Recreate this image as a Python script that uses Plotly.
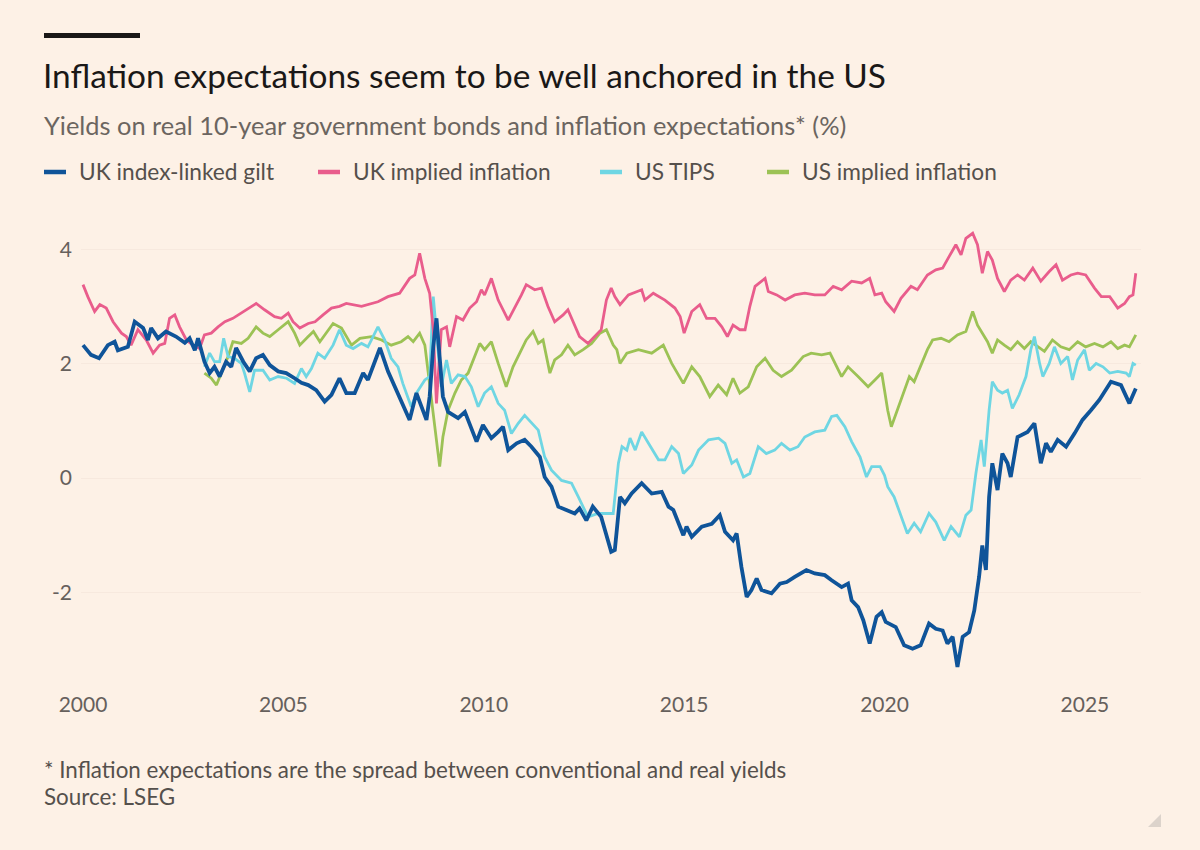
import plotly.graph_objects as go

# ---------------- data (decimal years, %) ----------------
gilt_t = [2000.0, 2000.2, 2000.4, 2000.62, 2000.79, 2000.87, 2001.12, 2001.29, 2001.5, 2001.62, 2001.7, 2001.87,
          2002.07, 2002.32, 2002.54, 2002.66, 2002.79, 2002.87, 2003.03, 2003.16, 2003.28, 2003.41, 2003.57, 2003.7,
          2003.82, 2004.0, 2004.16, 2004.32, 2004.49, 2004.66, 2004.87, 2005.07, 2005.28, 2005.45, 2005.62, 2005.82,
          2006.03, 2006.2, 2006.4, 2006.57, 2006.78, 2006.99, 2007.11, 2007.41, 2007.61, 2007.86, 2008.15, 2008.32,
          2008.57, 2008.65, 2008.74, 2008.82, 2008.9, 2008.98, 2009.11, 2009.36, 2009.53, 2009.65, 2009.82, 2009.98,
          2010.19, 2010.36, 2010.48, 2010.61, 2010.82, 2011.02, 2011.19, 2011.4, 2011.52, 2011.69, 2011.86, 2012.06,
          2012.27, 2012.39, 2012.56, 2012.72, 2012.93, 2013.18, 2013.27, 2013.32, 2013.4, 2013.52, 2013.69, 2013.94,
          2014.19, 2014.44, 2014.61, 2014.73, 2014.98, 2015.06, 2015.19, 2015.44, 2015.69, 2015.89, 2016.02, 2016.22,
          2016.31, 2016.43, 2016.56, 2016.68, 2016.81, 2016.93, 2017.18, 2017.39, 2017.56, 2017.76, 2018.05, 2018.26,
          2018.51, 2018.68, 2018.93, 2019.09, 2019.18, 2019.34, 2019.47, 2019.63, 2019.8, 2019.93, 2020.03, 2020.28,
          2020.49, 2020.7, 2020.9, 2021.11, 2021.28, 2021.45, 2021.57, 2021.7, 2021.82, 2021.95, 2022.11, 2022.24,
          2022.36, 2022.44, 2022.53, 2022.61, 2022.69, 2022.82, 2022.94, 2023.07, 2023.15, 2023.32, 2023.57, 2023.74,
          2023.9, 2024.03, 2024.15, 2024.32, 2024.53, 2024.74, 2024.94, 2025.15, 2025.36, 2025.65, 2025.9, 2026.11,
          2026.27]
gilt_v = [2.33, 2.16, 2.10, 2.33, 2.39, 2.24, 2.30, 2.74, 2.63, 2.42, 2.63, 2.45,
          2.57, 2.48, 2.37, 2.45, 2.24, 2.45, 2.04, 1.84, 1.95, 1.78, 2.04, 1.95,
          2.28, 2.04, 1.87, 2.10, 2.16, 1.98, 1.87, 1.84, 1.75, 1.67, 1.63, 1.54,
          1.34, 1.46, 1.75, 1.49, 1.49, 1.84, 1.72, 2.28, 1.87, 1.49, 1.02, 1.49,
          1.02, 1.43, 2.30, 2.80, 2.13, 1.43, 1.16, 1.05, 1.16, 0.96, 0.64, 0.93,
          0.70, 0.81, 0.90, 0.49, 0.61, 0.67, 0.55, 0.37, 0.02, -0.15, -0.50, -0.56,
          -0.62, -0.53, -0.74, -0.50, -0.68, -1.29, -1.26, -0.91, -0.33, -0.44, -0.27, -0.09,
          -0.27, -0.24, -0.50, -0.56, -1.00, -0.85, -1.03, -0.85, -0.80, -0.65, -0.94, -1.09,
          -0.97, -1.56, -2.08, -1.96, -1.76, -1.96, -2.02, -1.85, -1.82, -1.73, -1.61, -1.67,
          -1.70, -1.79, -1.91, -1.85, -2.14, -2.26, -2.49, -2.90, -2.43, -2.35, -2.52, -2.61,
          -2.93, -2.99, -2.93, -2.55, -2.64, -2.67, -2.90, -2.78, -3.31, -2.78, -2.70, -2.32,
          -1.73, -1.18, -1.61, -0.33, 0.26, -0.21, 0.43, 0.26, 0.02, 0.72, 0.81, 0.96,
          0.26, 0.61, 0.46, 0.67, 0.55, 0.78, 1.02, 1.19, 1.37, 1.69, 1.63, 1.31,
          1.57]

ukinf_t = [2000.0, 2000.12, 2000.29, 2000.42, 2000.58, 2000.75, 2000.96, 2001.08, 2001.2, 2001.37, 2001.58, 2001.75,
           2001.91, 2002.04, 2002.16, 2002.29, 2002.41, 2002.58, 2002.74, 2002.91, 2003.03, 2003.2, 2003.37, 2003.54,
           2003.74, 2003.95, 2004.16, 2004.32, 2004.53, 2004.78, 2004.95, 2005.12, 2005.24, 2005.41, 2005.62, 2005.79,
           2005.99, 2006.2, 2006.4, 2006.57, 2006.95, 2007.36, 2007.61, 2007.9, 2008.15, 2008.28, 2008.4, 2008.53,
           2008.65, 2008.74, 2008.82, 2008.94, 2009.07, 2009.15, 2009.32, 2009.48, 2009.65, 2009.82, 2009.94, 2010.02,
           2010.19, 2010.36, 2010.61, 2010.77, 2010.94, 2011.06, 2011.27, 2011.44, 2011.6, 2011.77, 2011.98, 2012.1,
           2012.27, 2012.39, 2012.6, 2012.77, 2012.93, 2013.06, 2013.18, 2013.27, 2013.4, 2013.61, 2013.94, 2014.02,
           2014.23, 2014.52, 2014.77, 2014.9, 2015.0, 2015.19, 2015.39, 2015.56, 2015.77, 2015.94, 2016.08, 2016.22,
           2016.39, 2016.52, 2016.64, 2016.77, 2016.89, 2017.02, 2017.1, 2017.31, 2017.52, 2017.76, 2018.01, 2018.26,
           2018.51, 2018.72, 2018.93, 2019.18, 2019.43, 2019.63, 2019.76, 2019.93, 2020.03, 2020.24, 2020.41, 2020.66,
           2020.82, 2021.07, 2021.28, 2021.45, 2021.61, 2021.78, 2021.91, 2022.03, 2022.2, 2022.32, 2022.44, 2022.57,
           2022.69, 2022.82, 2022.99, 2023.15, 2023.32, 2023.49, 2023.7, 2023.9, 2024.11, 2024.28, 2024.44, 2024.65,
           2024.82, 2025.02, 2025.24, 2025.41, 2025.62, 2025.82, 2025.99, 2026.11, 2026.2, 2026.27]
ukinf_v = [3.39, 3.18, 2.92, 3.04, 2.98, 2.74, 2.54, 2.48, 2.33, 2.60, 2.42, 2.19,
           2.33, 2.36, 2.80, 2.86, 2.65, 2.42, 2.33, 2.27, 2.51, 2.54, 2.65, 2.74,
           2.80, 2.89, 2.98, 3.06, 2.95, 2.83, 2.80, 2.89, 2.74, 2.63, 2.71, 2.74,
           2.86, 2.98, 3.01, 3.06, 3.01, 3.09, 3.18, 3.24, 3.50, 3.56, 3.94, 3.50,
           3.24, 2.60, 1.31, 2.60, 2.65, 2.30, 2.83, 2.77, 2.98, 3.09, 3.30, 3.21,
           3.50, 3.12, 2.77, 2.98, 3.21, 3.39, 3.30, 3.33, 3.01, 2.74, 2.86, 2.95,
           2.68, 2.48, 2.36, 2.48, 2.60, 3.12, 3.33, 3.18, 3.04, 3.21, 3.30, 3.12,
           3.24, 3.12, 2.98, 2.83, 2.54, 2.92, 3.04, 2.80, 2.80, 2.65, 2.48, 2.68,
           2.60, 2.60, 3.01, 3.36, 3.42, 3.50, 3.27, 3.21, 3.12, 3.21, 3.24, 3.21,
           3.21, 3.36, 3.30, 3.45, 3.42, 3.50, 3.21, 3.24, 3.09, 2.92, 3.15, 3.36,
           3.30, 3.56, 3.65, 3.68, 3.88, 4.09, 3.91, 4.20, 4.29, 4.09, 3.59, 3.97,
           3.82, 3.50, 3.27, 3.47, 3.56, 3.47, 3.68, 3.45, 3.62, 3.74, 3.47, 3.56,
           3.59, 3.56, 3.33, 3.18, 3.18, 2.98, 3.06, 3.18, 3.21, 3.59]

tips_t = [2003.03, 2003.16, 2003.28, 2003.41, 2003.51, 2003.62, 2003.78, 2003.95, 2004.03, 2004.16, 2004.28, 2004.49,
          2004.66, 2004.87, 2005.08, 2005.28, 2005.45, 2005.57, 2005.7, 2005.86, 2006.03, 2006.24, 2006.4, 2006.57,
          2006.74, 2006.95, 2007.11, 2007.36, 2007.53, 2007.69, 2007.86, 2007.98, 2008.19, 2008.32, 2008.53, 2008.65,
          2008.74, 2008.82, 2008.94, 2009.07, 2009.19, 2009.36, 2009.53, 2009.69, 2009.86, 2010.02, 2010.19, 2010.36,
          2010.52, 2010.69, 2010.86, 2011.02, 2011.19, 2011.36, 2011.52, 2011.69, 2011.94, 2012.19, 2012.36, 2012.6,
          2012.85, 2013.1, 2013.23, 2013.36, 2013.45, 2013.57, 2013.65, 2013.78, 2013.94, 2014.11, 2014.36, 2014.52,
          2014.69, 2014.86, 2014.98, 2015.19, 2015.36, 2015.61, 2015.86, 2016.02, 2016.19, 2016.31, 2016.48, 2016.64,
          2016.85, 2017.05, 2017.26, 2017.43, 2017.64, 2017.84, 2018.01, 2018.26, 2018.51, 2018.68, 2018.81, 2019.01,
          2019.18, 2019.39, 2019.55, 2019.68, 2019.89, 2020.0, 2020.08, 2020.24, 2020.41, 2020.57, 2020.74, 2020.9,
          2021.11, 2021.28, 2021.49, 2021.66, 2021.87, 2022.03, 2022.16, 2022.28, 2022.41, 2022.49, 2022.61, 2022.69,
          2022.82, 2022.94, 2023.07, 2023.19, 2023.36, 2023.53, 2023.65, 2023.74, 2023.87, 2023.95, 2024.11, 2024.24,
          2024.4, 2024.57, 2024.69, 2024.82, 2024.99, 2025.11, 2025.28, 2025.45, 2025.62, 2025.82, 2026.03, 2026.11,
          2026.2, 2026.27]
tips_v = [1.95, 2.19, 2.04, 2.04, 2.45, 2.13, 2.10, 2.01, 1.84, 1.51, 1.89, 1.89,
          1.72, 1.78, 1.75, 1.66, 1.92, 1.78, 1.92, 2.19, 2.10, 2.33, 2.60, 2.33,
          2.27, 2.36, 2.30, 2.65, 2.42, 2.10, 1.95, 1.66, 1.25, 1.49, 1.72, 1.78,
          3.18, 2.60, 1.60, 2.07, 1.66, 1.81, 1.78, 1.60, 1.25, 1.49, 1.60, 1.31,
          1.19, 0.78, 0.96, 1.10, 0.96, 0.84, 0.37, 0.14, -0.04, -0.09, -0.33, -0.68,
          -0.62, -0.62, -0.62, 0.26, 0.55, 0.49, 0.70, 0.49, 0.81, 0.61, 0.32, 0.32,
          0.55, 0.43, 0.08, 0.23, 0.49, 0.67, 0.70, 0.61, 0.26, 0.32, 0.02, 0.08,
          0.55, 0.43, 0.49, 0.61, 0.49, 0.55, 0.72, 0.81, 0.84, 1.08, 1.10, 0.90,
          0.64, 0.37, 0.02, 0.20, 0.20, 0.05, -0.15, -0.33, -0.68, -0.97, -0.79, -0.94,
          -0.62, -0.77, -1.09, -0.85, -1.03, -0.65, -0.56, 0.08, 0.67, 0.20, 1.19, 1.69,
          1.54, 1.49, 1.54, 1.22, 1.46, 1.78, 2.25, 2.48, 2.01, 1.78, 2.01, 2.30,
          2.01, 2.13, 1.72, 2.07, 2.25, 1.89, 2.01, 1.95, 1.84, 1.87, 1.84, 1.78,
          2.01, 1.98]

usinf_t = [2003.03, 2003.2, 2003.33, 2003.45, 2003.62, 2003.74, 2003.95, 2004.12, 2004.32, 2004.49, 2004.66, 2004.87,
           2005.12, 2005.28, 2005.41, 2005.62, 2005.75, 2005.91, 2006.07, 2006.24, 2006.45, 2006.57, 2006.7, 2006.91,
           2007.2, 2007.45, 2007.69, 2007.94, 2008.11, 2008.24, 2008.4, 2008.53, 2008.65, 2008.78, 2008.9, 2008.98,
           2009.11, 2009.28, 2009.44, 2009.61, 2009.73, 2009.9, 2010.02, 2010.19, 2010.36, 2010.56, 2010.73, 2010.9,
           2011.06, 2011.23, 2011.36, 2011.48, 2011.65, 2011.77, 2011.94, 2012.1, 2012.27, 2012.48, 2012.69, 2012.9,
           2013.06, 2013.23, 2013.32, 2013.4, 2013.57, 2013.86, 2014.19, 2014.48, 2014.69, 2014.98, 2015.19, 2015.39,
           2015.64, 2015.85, 2016.06, 2016.22, 2016.39, 2016.6, 2016.81, 2017.02, 2017.22, 2017.43, 2017.68, 2017.97,
           2018.17, 2018.43, 2018.64, 2018.93, 2019.09, 2019.34, 2019.59, 2019.76, 2019.93, 2020.0, 2020.08, 2020.17,
           2020.32, 2020.49, 2020.62, 2020.74, 2020.9, 2021.07, 2021.2, 2021.41, 2021.61, 2021.82, 2022.03, 2022.2,
           2022.32, 2022.44, 2022.57, 2022.69, 2022.82, 2022.99, 2023.15, 2023.32, 2023.49, 2023.65, 2023.82, 2023.99,
           2024.19, 2024.4, 2024.61, 2024.82, 2025.02, 2025.24, 2025.45, 2025.65, 2025.82, 2025.99, 2026.11, 2026.2,
           2026.27]
usinf_v = [1.84, 1.75, 1.63, 1.84, 2.13, 2.39, 2.36, 2.45, 2.65, 2.54, 2.48, 2.60,
           2.74, 2.54, 2.33, 2.48, 2.57, 2.39, 2.54, 2.71, 2.63, 2.48, 2.33, 2.45,
           2.48, 2.42, 2.33, 2.39, 2.48, 2.39, 2.54, 2.33, 1.66, 0.84, 0.20, 0.72,
           1.19, 1.49, 1.72, 1.84, 2.07, 2.36, 2.25, 2.39, 2.01, 1.60, 1.95, 2.19,
           2.42, 2.57, 2.36, 2.42, 1.84, 2.07, 2.16, 2.33, 2.16, 2.25, 2.36, 2.54,
           2.60, 2.33, 2.25, 2.01, 2.19, 2.25, 2.19, 2.33, 2.01, 1.66, 1.95, 1.78,
           1.43, 1.63, 1.46, 1.75, 1.49, 1.60, 1.95, 2.10, 1.89, 1.78, 1.89, 2.13,
           2.19, 2.16, 2.19, 1.78, 1.95, 1.78, 1.60, 1.72, 1.84, 1.54, 1.19, 0.90,
           1.19, 1.49, 1.78, 1.69, 1.95, 2.25, 2.42, 2.45, 2.39, 2.51, 2.57, 2.92,
           2.68, 2.54, 2.39, 2.19, 2.42, 2.33, 2.25, 2.39, 2.27, 2.39, 2.30, 2.22,
           2.42, 2.30, 2.25, 2.39, 2.30, 2.36, 2.30, 2.39, 2.27, 2.33, 2.30, 2.42,
           2.51]

series_names = ["UK index-linked gilt", "UK implied inflation", "US TIPS", "US implied inflation"]
series_colors = ["#0F5499", "#E95D8C", "#6FD6E3", "#9CC255"]

y_ticks = [-2, 0, 2, 4]
x_ticks = [2000, 2005, 2010, 2015, 2020, 2025]

# ---------------- layout helpers ----------------
BG = "#FDF1E6"
W, H = 1200, 850
L, R, T, B = 81, 59, 227, 175
PW, PH = W - L - R, H - T - B
FONT = "Lato"


def fx(px):
    return (px - L) / PW


def fy(py):
    return (H - B - py) / PH


fig = go.Figure()

# draw order: green, cyan, pink, blue (blue on top)
for t, v, i, w in [(usinf_t, usinf_v, 3, 2.8), (tips_t, tips_v, 2, 2.8),
                   (ukinf_t, ukinf_v, 1, 2.8), (gilt_t, gilt_v, 0, 3.8)]:
    fig.add_trace(go.Scatter(x=t, y=v, mode="lines", name=series_names[i],
                             line=dict(color=series_colors[i], width=w),
                             showlegend=False, hoverinfo="skip"))

shapes = []
annotations = []

# top black bar
shapes.append(dict(type="rect", xref="paper", yref="paper",
                   x0=fx(44), x1=fx(140), y0=fy(38), y1=fy(33),
                   fillcolor="#1A1817", line=dict(width=0)))

annotations.append(dict(text="Inflation expectations seem to be well anchored in the US",
                        xref="paper", yref="paper", x=fx(41), y=fy(75), xanchor="left", yanchor="middle",
                        showarrow=False, font=dict(family=FONT, size=33.4, color="#1A1817")))
annotations.append(dict(text="Yields on real 10-year government bonds and inflation expectations* (%)",
                        xref="paper", yref="paper", x=fx(42), y=fy(125), xanchor="left", yanchor="middle",
                        showarrow=False, font=dict(family=FONT, size=25.4, color="#6B6560")))

# legend
leg_x = [44, 318, 600, 767]
for i, name in enumerate(series_names):
    x0 = leg_x[i]
    shapes.append(dict(type="line", xref="paper", yref="paper",
                       x0=fx(x0), x1=fx(x0 + 22), y0=fy(172), y1=fy(172),
                       line=dict(color=series_colors[i], width=4.5)))
    annotations.append(dict(text=name, xref="paper", yref="paper",
                            x=fx(x0 + 33), y=fy(172), xanchor="left", yanchor="middle",
                            showarrow=False, font=dict(family=FONT, size=22.7, color="#55504C")))

# footnotes
annotations.append(dict(text="* Inflation expectations are the spread between conventional and real yields",
                        xref="paper", yref="paper", x=fx(42), y=fy(769), xanchor="left", yanchor="middle",
                        showarrow=False, font=dict(family=FONT, size=22.4, color="#55504C")))
annotations.append(dict(text="Source: LSEG",
                        xref="paper", yref="paper", x=fx(42), y=fy(796), xanchor="left", yanchor="middle",
                        showarrow=False, font=dict(family=FONT, size=22.4, color="#55504C")))

# small resize glyph in the bottom-right corner
shapes.append(dict(type="path", xref="paper", yref="paper",
                   path=f"M {fx(1161)} {fy(814)} L {fx(1161)} {fy(827)} L {fx(1148)} {fy(827)} Z",
                   fillcolor="#DCD3CB", line=dict(width=0)))

fig.update_layout(
    width=W, height=H,
    paper_bgcolor=BG, plot_bgcolor=BG,
    margin=dict(l=L, r=R, t=T, b=B, pad=0),
    shapes=shapes, annotations=annotations,
    showlegend=False,
    font=dict(family=FONT, color="#66605C"),
)
fig.update_xaxes(range=[1999.95, 2026.4], tickvals=x_ticks, ticktext=[str(v) for v in x_ticks],
                 showgrid=False, zeroline=False, showline=False, ticks="",
                 tickfont=dict(family=FONT, size=21, color="#66605C"), ticklabelstandoff=15)
fig.update_yaxes(range=[-3.45, 4.4], tickvals=y_ticks, ticktext=[str(v) for v in y_ticks],
                 showgrid=True, gridcolor="#F7E9DE", gridwidth=1,
                 zeroline=False, showline=False, ticks="",
                 tickfont=dict(family=FONT, size=21, color="#66605C"), ticklabelstandoff=8)

fig.write_html("out.html")
